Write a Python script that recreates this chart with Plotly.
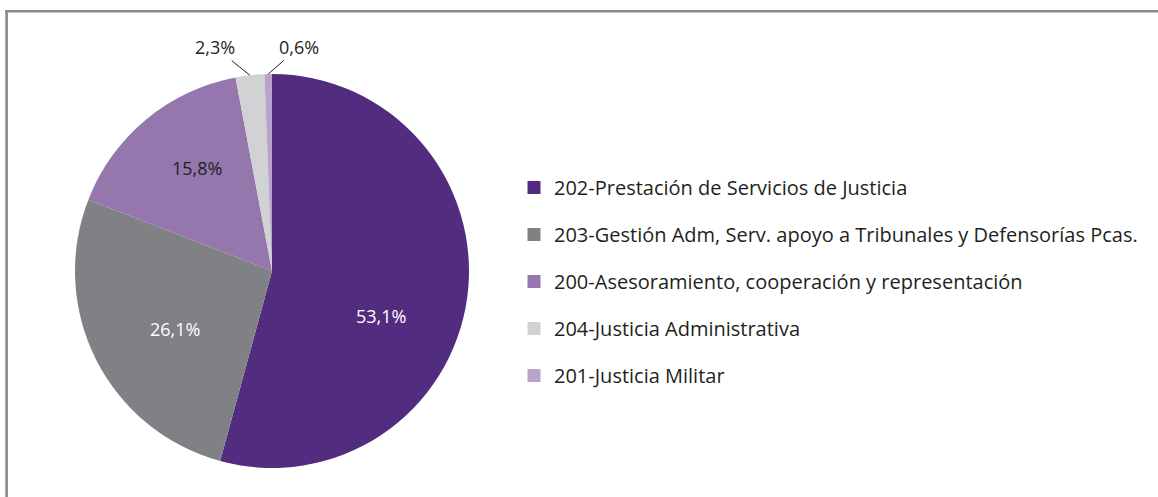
import math
import plotly.graph_objects as go

# ---- data ----
categories = [
    "202-Prestación de Servicios de Justicia",
    "203-Gestión Adm, Serv. apoyo a Tribunales y Defensorías Pcas.",
    "200-Asesoramiento, cooperación y representación",
    "204-Justicia Administrativa",
    "201-Justicia Militar",
]
values = [53.1, 26.1, 15.8, 2.3, 0.6]
colors = ["#522c7f", "#808184", "#9577ae", "#d1d2d4", "#b9a2cc"]
label_colors = ["#ffffff", "#ffffff", "#231f20", "#231f20", "#231f20"]

W, H = 1158, 497
FONT = "Open Sans, Noto Sans, sans-serif"
TXT = "#231f20"

labels = [f"{v:.1f}".replace(".", ",") + "%" for v in values]
inside = [v >= 5 for v in values]

# pie geometry (pixels)
cx, cy, R = 272, 271, 197

fig = go.Figure()
fig.add_trace(go.Pie(
    labels=categories,
    values=values,
    sort=False,
    direction="clockwise",
    rotation=0,
    marker=dict(colors=colors, line=dict(width=0)),
    text=labels,
    textinfo="none",
    showlegend=False,
    hovertemplate="%{label}: %{text}<extra></extra>",
    domain=dict(x=[(cx - R) / W, (cx + R) / W], y=[1 - (cy + R) / H, 1 - (cy - R) / H]),
))

# legend via dummy square markers (one group each for spacing)
for cat, col in zip(categories, colors):
    fig.add_trace(go.Scatter(
        x=[None], y=[None], mode="markers", name=cat, legendgroup=cat,
        marker=dict(symbol="square", size=13, color=col),
    ))

# slice labels, placed from each slice's mid angle
total = sum(values)
cum = 0
annotations = []
inside_shift = {0: (-8, 29), 1: (9, 5), 2: (1, -12)}
outside_off = {3: (-35, -28), 4: (31, -27)}
for i, v in enumerate(values):
    mid = (cum + v / 2) / total * 2 * math.pi
    cum += v
    if inside[i]:
        r = 0.6 * R
        px = cx + r * math.sin(mid)
        py = cy - r * math.cos(mid)
        xs, ys = inside_shift.get(i, (0, 0))
        annotations.append(dict(
            x=(px + xs) / W, y=1 - (py + ys) / H, xref="paper", yref="paper",
            text=labels[i], showarrow=False, xanchor="center", yanchor="middle",
            font=dict(family=FONT, size=18, color=label_colors[i]),
        ))
    else:
        px = cx + R * math.sin(mid)
        py = cy - R * math.cos(mid)
        ax, ay = outside_off.get(i, (0, -30))
        annotations.append(dict(
            x=px / W, y=1 - py / H, xref="paper", yref="paper",
            text=labels[i], showarrow=True, arrowhead=0, arrowwidth=1,
            arrowcolor=TXT, ax=ax, ay=ay, standoff=0,
            font=dict(family=FONT, size=18, color=TXT),
        ))

fig.update_layout(
    width=W, height=H,
    margin=dict(l=0, r=0, t=0, b=0),
    paper_bgcolor="white", plot_bgcolor="white",
    xaxis=dict(visible=False), yaxis=dict(visible=False),
    legend=dict(
        x=514 / W, y=1 - 168 / H, xanchor="left", yanchor="top",
        font=dict(family=FONT, size=20, color=TXT),
        tracegroupgap=18, itemwidth=30, bgcolor="rgba(0,0,0,0)",
    ),
    annotations=annotations,
    shapes=[
        dict(type="line", xref="paper", yref="paper", x0=5 / W, x1=1, y0=1 - 11.3 / H, y1=1 - 11.3 / H,
             line=dict(color="#8a8a8a", width=2.6)),
        dict(type="line", xref="paper", yref="paper", x0=6.6 / W, x1=6.6 / W, y0=0, y1=1 - 10 / H,
             line=dict(color="#8a8a8a", width=2.6)),
    ],
)

fig.write_html("out.html", config={"displayModeBar": False},
               post_script="document.body.style.margin='0';")
